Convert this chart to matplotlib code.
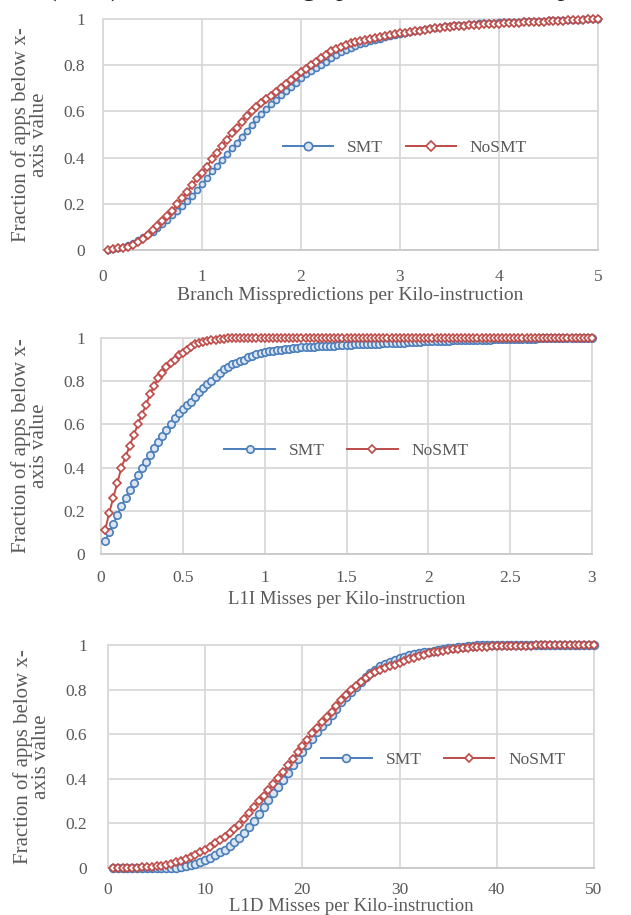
import numpy as np
import matplotlib
matplotlib.use("Agg")
import matplotlib.pyplot as plt

plt.rcParams['font.family'] = ['Liberation Serif', 'DejaVu Serif']

# ---------------- data ----------------
series_names = ["SMT", "NoSMT"]
ylabel_text = "Fraction of apps below x-\naxis value"
yticks = [0, 0.2, 0.4, 0.6, 0.8, 1]
ytick_labels = ["0", "0.2", "0.4", "0.6", "0.8", "1"]

# Panel 1: branch mispredictions per kilo-instruction
branch_x = np.round(np.arange(1, 101) * 0.05, 3)
branch_smt = [
    0.000, 0.004, 0.008, 0.012, 0.020, 0.030, 0.045, 0.058, 0.068, 0.080,
    0.095, 0.112, 0.130, 0.150, 0.170, 0.190, 0.212, 0.235, 0.258, 0.285,
    0.310, 0.340, 0.365, 0.390, 0.415, 0.440, 0.465, 0.490, 0.515, 0.540,
    0.565, 0.588, 0.610, 0.630, 0.650, 0.670, 0.688, 0.705, 0.725, 0.745,
    0.760, 0.775, 0.788, 0.800, 0.815, 0.830, 0.842, 0.855, 0.866, 0.876,
    0.884, 0.891, 0.898, 0.905, 0.910, 0.915, 0.921, 0.927, 0.932, 0.936,
    0.940, 0.944, 0.948, 0.952, 0.956, 0.959, 0.962, 0.965, 0.968, 0.970,
    0.972, 0.974, 0.976, 0.978, 0.979, 0.981, 0.982, 0.983, 0.984, 0.985,
    0.986, 0.987, 0.988, 0.989, 0.990, 0.991, 0.992, 0.993, 0.993, 0.994,
    0.995, 0.995, 0.996, 0.996, 0.997, 0.997, 0.998, 0.999, 0.999, 1.000,
]
branch_nosmt = [
    0.000, 0.005, 0.008, 0.010, 0.015, 0.022, 0.035, 0.048, 0.065, 0.085,
    0.105, 0.125, 0.148, 0.170, 0.200, 0.225, 0.250, 0.280, 0.310, 0.335,
    0.360, 0.395, 0.420, 0.450, 0.478, 0.505, 0.530, 0.555, 0.580, 0.600,
    0.620, 0.638, 0.652, 0.668, 0.685, 0.700, 0.718, 0.735, 0.752, 0.772,
    0.785, 0.800, 0.815, 0.830, 0.845, 0.862, 0.872, 0.880, 0.888, 0.895,
    0.900, 0.905, 0.908, 0.912, 0.916, 0.920, 0.925, 0.930, 0.934, 0.938,
    0.941, 0.944, 0.947, 0.950, 0.954, 0.957, 0.960, 0.962, 0.964, 0.966,
    0.968, 0.970, 0.971, 0.973, 0.974, 0.975, 0.977, 0.978, 0.979, 0.980,
    0.981, 0.982, 0.983, 0.984, 0.985, 0.986, 0.987, 0.988, 0.989, 0.990,
    0.991, 0.992, 0.993, 0.994, 0.995, 0.996, 0.997, 0.998, 0.999, 1.000,
]
branch_xticks = [0, 1, 2, 3, 4, 5]
branch_xlabel = "Branch Misspredictions per Kilo-instruction"

# Panel 2: L1I misses per kilo-instruction
l1i_x = np.round(np.arange(1, 121) * 0.025, 4)
l1i_smt = [
    0.062, 0.100, 0.140, 0.180, 0.222, 0.260, 0.298, 0.330, 0.365, 0.400,
    0.428, 0.460, 0.490, 0.520, 0.547, 0.575, 0.600, 0.628, 0.655, 0.672,
    0.688, 0.705, 0.728, 0.750, 0.768, 0.785, 0.800, 0.820, 0.838, 0.855,
    0.868, 0.878, 0.885, 0.892, 0.900, 0.910, 0.918, 0.926, 0.932, 0.936,
    0.939, 0.941, 0.943, 0.946, 0.949, 0.951, 0.953, 0.955, 0.957, 0.958,
    0.959, 0.960, 0.961, 0.962, 0.963, 0.964, 0.965, 0.966, 0.967, 0.968,
    0.969, 0.970, 0.971, 0.971, 0.972, 0.973, 0.974, 0.974, 0.975, 0.976,
    0.977, 0.977, 0.978, 0.979, 0.980, 0.981, 0.982, 0.983, 0.984, 0.985,
    0.986, 0.986, 0.987, 0.988, 0.988, 0.989, 0.989, 0.990, 0.990, 0.991,
    0.991, 0.992, 0.992, 0.993, 0.993, 0.994, 0.994, 0.995, 0.995, 0.995,
    0.996, 0.996, 0.996, 0.997, 0.997, 0.997, 0.998, 0.998, 0.998, 0.998,
    0.999, 0.999, 0.999, 0.999, 0.999, 1.000, 1.000, 1.000, 1.000, 1.000,
]
l1i_nosmt = [
    0.110, 0.190, 0.260, 0.330, 0.400, 0.450, 0.500, 0.550, 0.600, 0.645,
    0.690, 0.740, 0.780, 0.815, 0.840, 0.865, 0.885, 0.900, 0.920, 0.930,
    0.945, 0.960, 0.970, 0.975, 0.983, 0.988, 0.990, 0.993, 0.995, 0.997,
    0.998, 0.999, 1.000, 1.000, 1.000, 1.000, 1.000, 1.000, 1.000, 1.000,
    1.000, 1.000, 1.000, 1.000, 1.000, 1.000, 1.000, 1.000, 1.000, 1.000,
    1.000, 1.000, 1.000, 1.000, 1.000, 1.000, 1.000, 1.000, 1.000, 1.000,
    1.000, 1.000, 1.000, 1.000, 1.000, 1.000, 1.000, 1.000, 1.000, 1.000,
    1.000, 1.000, 1.000, 1.000, 1.000, 1.000, 1.000, 1.000, 1.000, 1.000,
    1.000, 1.000, 1.000, 1.000, 1.000, 1.000, 1.000, 1.000, 1.000, 1.000,
    1.000, 1.000, 1.000, 1.000, 1.000, 1.000, 1.000, 1.000, 1.000, 1.000,
    1.000, 1.000, 1.000, 1.000, 1.000, 1.000, 1.000, 1.000, 1.000, 1.000,
    1.000, 1.000, 1.000, 1.000, 1.000, 1.000, 1.000, 1.000, 1.000, 1.000,
]
l1i_xticks = [0, 0.5, 1, 1.5, 2, 2.5, 3]
l1i_xlabel = "L1I Misses per Kilo-instruction"

# Panel 3: L1D misses per kilo-instruction
l1d_x = np.round(np.arange(1, 101) * 0.5, 2)
l1d_smt = [
    0.000, 0.000, 0.000, 0.000, 0.000, 0.000, 0.000, 0.000, 0.000, 0.000,
    0.000, 0.001, 0.001, 0.002, 0.004, 0.007, 0.012, 0.018, 0.026, 0.035,
    0.047, 0.060, 0.070, 0.082, 0.098, 0.115, 0.135, 0.157, 0.182, 0.210,
    0.242, 0.275, 0.305, 0.335, 0.365, 0.395, 0.428, 0.460, 0.490, 0.520,
    0.550, 0.580, 0.608, 0.635, 0.660, 0.685, 0.715, 0.745, 0.768, 0.790,
    0.812, 0.835, 0.855, 0.875, 0.890, 0.905, 0.915, 0.925, 0.933, 0.940,
    0.948, 0.955, 0.960, 0.963, 0.967, 0.970, 0.974, 0.978, 0.982, 0.985,
    0.988, 0.990, 0.992, 0.995, 0.997, 0.998, 0.999, 1.000, 1.000, 1.000,
    1.000, 1.000, 1.000, 1.000, 1.000, 1.000, 1.000, 1.000, 1.000, 1.000,
    1.000, 1.000, 1.000, 1.000, 1.000, 1.000, 1.000, 1.000, 1.000, 1.000,
]
l1d_nosmt = [
    0.000, 0.000, 0.000, 0.001, 0.001, 0.002, 0.003, 0.004, 0.005, 0.007,
    0.010, 0.015, 0.019, 0.025, 0.032, 0.040, 0.050, 0.060, 0.070, 0.082,
    0.095, 0.110, 0.125, 0.140, 0.155, 0.175, 0.195, 0.220, 0.248, 0.275,
    0.300, 0.325, 0.350, 0.375, 0.402, 0.430, 0.460, 0.490, 0.518, 0.545,
    0.575, 0.605, 0.630, 0.655, 0.678, 0.700, 0.728, 0.755, 0.778, 0.800,
    0.818, 0.835, 0.850, 0.865, 0.878, 0.890, 0.898, 0.905, 0.912, 0.920,
    0.928, 0.935, 0.942, 0.950, 0.957, 0.963, 0.967, 0.970, 0.974, 0.978,
    0.980, 0.982, 0.985, 0.987, 0.989, 0.991, 0.992, 0.993, 0.994, 0.995,
    0.995, 0.996, 0.996, 0.996, 0.997, 0.997, 0.997, 0.998, 0.998, 0.998,
    0.998, 0.999, 0.999, 0.999, 0.999, 0.999, 1.000, 1.000, 1.000, 1.000,
]
l1d_xticks = [0, 10, 20, 30, 40, 50]
l1d_xlabel = "L1D Misses per Kilo-instruction"

# ---------------- styling ----------------
BLUE = "#4A7EBB"
BLUE_FILL = "#DCE6F2"
RED = "#BE4B48"
GRID = "#D9D9D9"
TXT = "#595959"
FS = 12.5

fig = plt.figure(figsize=(6.31, 9.15), dpi=100)

W, H = 631.0, 915.0

def ax_at(left, top, right, bottom):
    return fig.add_axes([left / W, 1 - bottom / H, (right - left) / W, (bottom - top) / H])

panels = [
    dict(box=(103, 19, 598, 250), x=branch_x, smt=branch_smt, nosmt=branch_nosmt,
         xlim=(0, 5), xticks=branch_xticks, xlabel=branch_xlabel, xlfs=14,
         ms_c=4.3, ms_d=3.6, ypad=13, xpad=14, xlab_y=-0.160,
         leg=(0.61, 0.44), ylab_x=30, mscale=1.4),
    dict(box=(101, 338, 592, 554), x=l1i_x, smt=l1i_smt, nosmt=l1i_nosmt,
         xlim=(0, 3), xticks=l1i_xticks, xlabel=l1i_xlabel, xlfs=13.5,
         ms_c=5.3, ms_d=3.8, ypad=11.5, xpad=11.5, xlab_y=-0.170,
         leg=(0.50, 0.477), ylab_x=30, mscale=1.0),
    dict(box=(108, 645, 594, 868), x=l1d_x, smt=l1d_smt, nosmt=l1d_nosmt,
         xlim=(0, 50), xticks=l1d_xticks, xlabel=l1d_xlabel, xlfs=13.5,
         ms_c=5.6, ms_d=3.8, ypad=15, xpad=10, xlab_y=-0.135,
         leg=(0.69, 0.484), ylab_x=32, mscale=1.0),
]

for p in panels:
    ax = ax_at(*p["box"])
    ax.plot(p["x"], p["smt"], color=BLUE, lw=1.4, marker="o", ms=p["ms_c"],
            mfc=BLUE_FILL, mec=BLUE, mew=1.2, clip_on=False, zorder=3,
            label=series_names[0])
    ax.plot(p["x"], p["nosmt"], color=RED, lw=1.4, marker="D", ms=p["ms_d"],
            mfc="white", mec=RED, mew=1.2, clip_on=False, zorder=4,
            label=series_names[1])
    ax.set_xlim(*p["xlim"])
    ax.set_ylim(0, 1)
    ax.set_xticks(p["xticks"])
    ax.set_xticklabels([f"{t:g}" for t in p["xticks"]])
    ax.set_yticks(yticks)
    ax.set_yticklabels(ytick_labels)
    ax.grid(True, color=GRID, lw=1.3)
    ax.set_axisbelow(True)
    for s in ax.spines.values():
        s.set_color(GRID)
        s.set_linewidth(1.3)
    ax.spines["bottom"].set_color("#C8C8C8")
    ax.tick_params(axis="both", length=0, labelsize=FS, labelcolor=TXT)
    ax.tick_params(axis="y", pad=p["ypad"])
    ax.tick_params(axis="x", pad=p["xpad"])
    ax.text(0.5, p["xlab_y"], p["xlabel"], transform=ax.transAxes, ha="center",
            va="top", fontsize=p["xlfs"], color=TXT)
    x0, y0, x1, y1 = p["box"]
    fig.text(p["ylab_x"] / W, 1 - ((y0 + y1) / 2) / H, ylabel_text, rotation=90,
             ha="center", va="center", multialignment="center", fontsize=15,
             color=TXT, linespacing=0.95)
    ax.legend(loc="center", bbox_to_anchor=p["leg"], ncol=2, frameon=False,
              fontsize=FS, handlelength=2.9, handletextpad=0.8, columnspacing=1.3,
              numpoints=1, labelcolor=TXT, markerscale=p["mscale"])

# partially visible line of text cut off by the top edge of the image
fig.text(48 / W, 1 + 3 / H, "(SMT) and NoSMT the graph, at the far bottom panel", ha="left",
         va="baseline", fontsize=19, color="#222222")

fig.savefig("out.png", dpi=100)
